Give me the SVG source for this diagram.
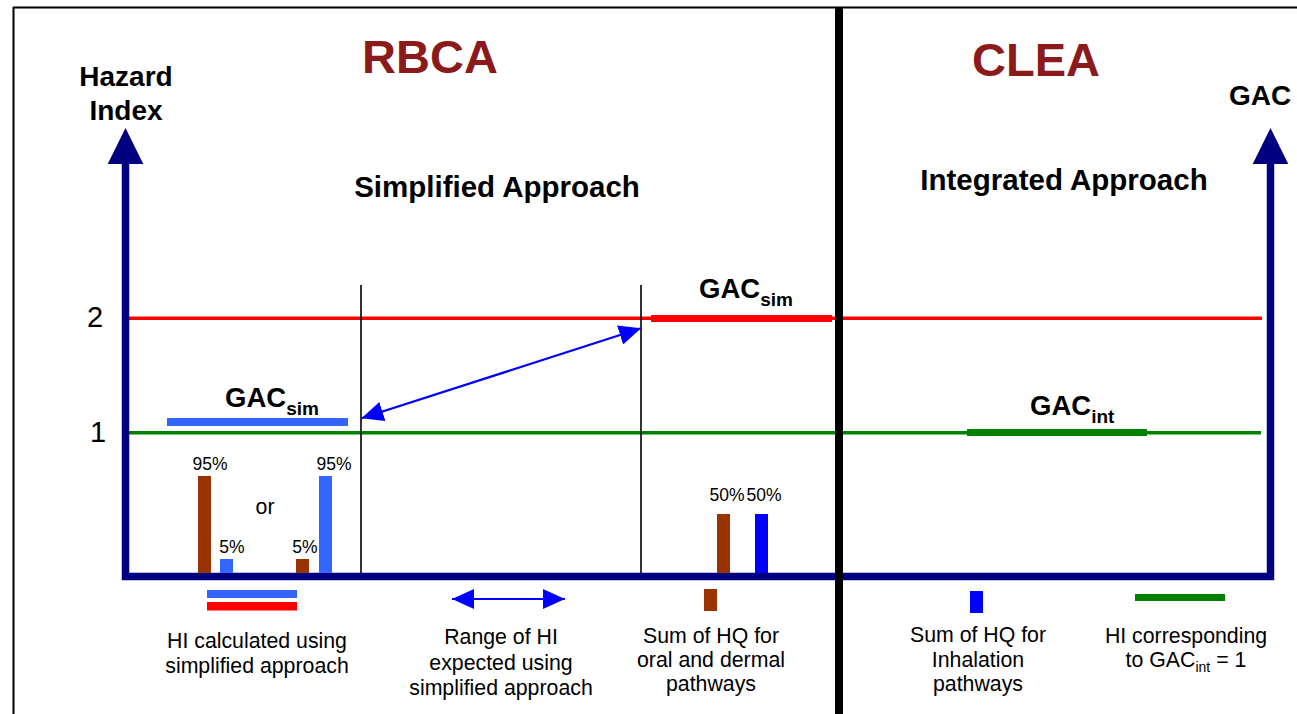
<svg xmlns="http://www.w3.org/2000/svg" width="1297" height="714" viewBox="0 0 1297 714">
  <defs>
    <style>
      text { font-family: "Liberation Sans", Arial, sans-serif; fill: #000; }
      .title { font-size: 47px; font-weight: bold; fill: #8B1A1A; text-anchor: middle; }
      .head { font-size: 29.5px; font-weight: bold; text-anchor: middle; }
      .axlab { font-size: 28px; font-weight: bold; text-anchor: middle; }
      .tick { font-size: 29px; text-anchor: middle; }
      .gac { font-size: 27.5px; font-weight: bold; }
      .sub { font-size: 19px; }
      .pct { font-size: 17.5px; text-anchor: middle; }
      .leg { font-size: 21.3px; text-anchor: middle; }
      .axis { stroke: #000080; stroke-width: 7.5; fill: none; }
    </style>
    <marker id="blueHead" viewBox="0 0 22 20" refX="22" refY="10" markerWidth="22" markerHeight="20" markerUnits="userSpaceOnUse" orient="auto-start-reverse">
      <path d="M0,0 L22,10 L0,20 Z" fill="#0000FF"/>
    </marker>
  </defs>

  <rect width="1297" height="714" fill="#fff"/>

  <!-- outer frame -->
  <g id="frame">
    <line x1="13" y1="7.5" x2="1297" y2="7.5" stroke="#000" stroke-width="2"/>
    <line x1="13.5" y1="7" x2="13.5" y2="714" stroke="#000" stroke-width="2"/>
  </g>

  <!-- titles -->
  <g id="titles">
    <text class="title" x="430" y="73">RBCA</text>
    <text class="title" x="1036" y="76">CLEA</text>
    <text class="head" x="497" y="197">Simplified Approach</text>
    <text class="head" x="1064" y="190">Integrated Approach</text>
  </g>

  <!-- reference levels -->
  <g id="levels">
    <line x1="129" y1="318.3" x2="1262" y2="318.3" stroke="#FF0000" stroke-width="3.5"/>
    <line x1="129" y1="432.7" x2="1261" y2="432.7" stroke="#008000" stroke-width="3.5"/>
    <line x1="361" y1="285" x2="361" y2="573" stroke="#000" stroke-width="1.6"/>
    <line x1="641" y1="285" x2="641" y2="573" stroke="#000" stroke-width="1.6"/>
  </g>

  <!-- axes -->
  <g id="axes">
    <polyline class="axis" points="125.5,160 125.5,576.5 1270.5,576.5 1270.5,160"/>
    <path d="M125.5,128 L143.3,164 L107.7,164 Z" fill="#000080"/>
    <path d="M1270.5,128 L1288.3,164 L1252.7,164 Z" fill="#000080"/>
    <text class="axlab" x="126" y="86">Hazard</text>
    <text class="axlab" x="126" y="120">Index</text>
    <text class="axlab" x="1260" y="105">GAC</text>
    <text class="tick" x="95" y="327">2</text>
    <text class="tick" x="98" y="442">1</text>
  </g>

  <!-- section divider -->
  <g id="divider">
    <rect x="835" y="8" width="8" height="706" fill="#000"/>
  </g>

  <!-- simplified GAC, left -->
  <g id="gac-sim-low">
    <rect x="167" y="418" width="181" height="8" fill="#3366FF"/>
    <text class="gac" x="225" y="407">GAC<tspan class="sub" dy="8">sim</tspan></text>
  </g>

  <!-- simplified GAC, upper -->
  <g id="gac-sim-high">
    <rect x="651" y="315" width="181" height="7" fill="#FF0000"/>
    <text class="gac" x="699" y="298">GAC<tspan class="sub" dy="8">sim</tspan></text>
  </g>

  <!-- integrated GAC -->
  <g id="gac-int">
    <rect x="967" y="429" width="180" height="7" fill="#008000"/>
    <text class="gac" x="1030" y="415">GAC<tspan class="sub" dy="8">int</tspan></text>
  </g>

  <!-- bar pairs, simplified -->
  <g id="bars-simplified">
    <rect x="198" y="476" width="13" height="97" fill="#993300"/>
    <rect x="220" y="559" width="13" height="14" fill="#3366FF"/>
    <rect x="296" y="559" width="13" height="14" fill="#993300"/>
    <rect x="319" y="476" width="13" height="97" fill="#3366FF"/>
    <text class="pct" x="210" y="470">95%</text>
    <text class="pct" x="232" y="553">5%</text>
    <text class="pct" x="305" y="553">5%</text>
    <text class="pct" x="334" y="470">95%</text>
    <text class="leg" x="265" y="514">or</text>
  </g>

  <!-- bar pair, integrated -->
  <g id="bars-integrated">
    <rect x="717" y="514" width="13" height="59" fill="#993300"/>
    <rect x="755" y="514" width="13" height="59" fill="#0000FF"/>
    <text class="pct" x="727" y="501">50%</text>
    <text class="pct" x="764" y="501">50%</text>
  </g>

  <!-- legend -->
  <g id="legend-hi-simplified">
    <rect x="207" y="590" width="90" height="8" fill="#3366FF"/>
    <rect x="207" y="602" width="90" height="8.5" fill="#FF0000"/>
    <text class="leg" x="257" y="648">HI calculated using</text>
    <text class="leg" x="257" y="673">simplified approach</text>
  </g>

  <g id="legend-range">
    <text class="leg" x="501" y="644">Range of HI</text>
    <text class="leg" x="501" y="670">expected using</text>
    <text class="leg" x="501" y="695">simplified approach</text>
  </g>

  <g id="legend-oral-dermal">
    <rect x="704" y="589" width="13" height="22" fill="#993300"/>
    <text class="leg" x="711" y="643">Sum of HQ for</text>
    <text class="leg" x="711" y="667">oral and dermal</text>
    <text class="leg" x="711" y="691">pathways</text>
  </g>

  <g id="legend-inhalation">
    <rect x="970" y="591" width="13" height="22" fill="#0000FF"/>
    <text class="leg" x="978" y="642">Sum of HQ for</text>
    <text class="leg" x="978" y="667">Inhalation</text>
    <text class="leg" x="978" y="691">pathways</text>
  </g>

  <g id="legend-hi-int">
    <rect x="1135" y="594" width="90" height="7" fill="#008000"/>
    <text class="leg" x="1186" y="643">HI corresponding</text>
    <text class="leg" x="1186" y="667">to GAC<tspan font-size="14" dy="5">int</tspan><tspan dy="-5"> = 1</tspan></text>
  </g>

  <!-- connectors -->
  <g id="connectors" stroke="#0000FF" stroke-width="2.2" fill="none">
    <line x1="361.5" y1="418.3" x2="641" y2="328.3" marker-start="url(#blueHead)" marker-end="url(#blueHead)"/>
    <line x1="452" y1="599" x2="565" y2="599" marker-start="url(#blueHead)" marker-end="url(#blueHead)"/>
  </g>
</svg>
